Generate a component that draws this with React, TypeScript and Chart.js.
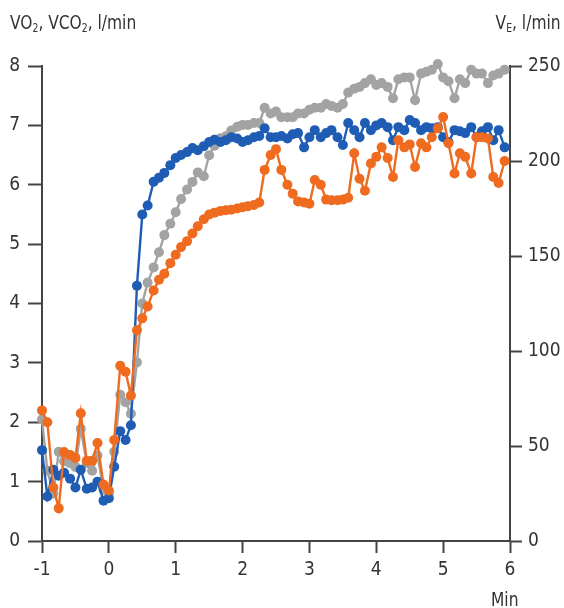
import React, { useEffect, useRef } from 'react';
import { Chart, registerables } from 'chart.js';

Chart.register(...registerables);

// Time in minutes (5-second samples)
const times = [
  -1.00, -0.92, -0.83, -0.75, -0.67, -0.58, -0.50, -0.42, -0.33, -0.25, -0.17, -0.08,
  0.00, 0.08, 0.17, 0.25, 0.33, 0.42, 0.50, 0.58, 0.67, 0.75, 0.83, 0.92,
  1.00, 1.08, 1.17, 1.25, 1.33, 1.42, 1.50, 1.58, 1.67, 1.75, 1.83, 1.92,
  2.00, 2.08, 2.17, 2.25, 2.33, 2.42, 2.50, 2.58, 2.67, 2.75, 2.83, 2.92,
  3.00, 3.08, 3.17, 3.25, 3.33, 3.42, 3.50, 3.58, 3.67, 3.75, 3.83, 3.92,
  4.00, 4.08, 4.17, 4.25, 4.33, 4.42, 4.50, 4.58, 4.67, 4.75, 4.83, 4.92,
  5.00, 5.08, 5.17, 5.25, 5.33, 5.42, 5.50, 5.58, 5.67, 5.75, 5.83, 5.92,
];

// VO2, l/min (blue, left axis)
const vo2 = [
  1.53, 0.75, 1.2, 1.1, 1.15, 1.05, 0.9, 1.2, 0.88, 0.9, 1.0, 0.68,
  0.72, 1.25, 1.85, 1.7, 1.95, 4.3, 5.5, 5.65, 6.05, 6.12, 6.2, 6.33,
  6.45, 6.5, 6.55, 6.62, 6.58, 6.65, 6.72, 6.76, 6.72, 6.75, 6.8, 6.78,
  6.72, 6.75, 6.8, 6.82, 6.95, 6.8, 6.8, 6.82, 6.78, 6.85, 6.87, 6.63,
  6.8, 6.92, 6.8, 6.87, 6.92, 6.8, 6.67, 7.04, 6.92, 6.8, 7.04, 6.92,
  7.0, 7.04, 6.97, 6.75, 6.97, 6.92, 7.09, 7.04, 6.92, 6.97, 6.95, 6.97,
  6.8, 6.72, 6.92, 6.9, 6.87, 6.97, 6.8, 6.9, 6.97, 6.75, 6.92, 6.63,
];

// VCO2, l/min (orange, left axis)
const vco2 = [
  2.2, 2.0, 0.9, 0.55, 1.5, 1.45, 1.4, 2.15, 1.35, 1.35, 1.65, 0.95,
  0.85, 1.7, 2.95, 2.85, 2.45, 3.55, 3.75, 3.95, 4.22, 4.4, 4.5, 4.68,
  4.82, 4.95, 5.05, 5.18, 5.3, 5.42, 5.5, 5.53, 5.56, 5.57, 5.58, 5.6,
  5.62, 5.64, 5.66, 5.7, 6.25, 6.5, 6.6, 6.25, 6.0, 5.85, 5.72, 5.7,
  5.68, 6.08, 6.0, 5.75, 5.74, 5.74, 5.75, 5.78, 6.53, 6.1, 5.9, 6.36,
  6.47, 6.63, 6.45, 6.13, 6.75, 6.63, 6.68, 6.3, 6.7, 6.63, 6.8, 6.95,
  7.14, 6.7, 6.19, 6.53, 6.47, 6.19, 6.8, 6.8, 6.78, 6.13, 6.03, 6.4,
];

// VE, l/min (grey, right axis)
const ve = [
  64, 37, 25, 47, 42, 41, 39, 59, 41, 37, 45, 27,
  25, 47, 77, 73, 67, 94, 125, 136, 144, 152, 161, 167,
  173, 180, 185, 189, 194, 192, 203, 208, 212, 213, 216, 218,
  219, 219, 220, 220, 228, 225, 226, 223, 223, 223, 225, 225,
  227, 228, 228, 230, 229, 228, 230, 236, 238, 239, 241, 243,
  240, 241, 239, 233, 243, 244, 244, 232, 246, 247, 248, 251,
  244, 242, 233, 243, 241, 248, 246, 246, 241, 245, 246, 248,
];

const leftTicks = [0, 8, 1];
const rightTicks = [0, 250, 50];
const xTicks = [-1, 6, 1];

const FONT = '"DejaVu Sans Condensed", "Liberation Sans Narrow", sans-serif';
const TEXT = '#333333';
const AXIS = '#444444';
const BLUE = '#1f5db4';
const ORANGE = '#ee6b1f';
const GREY = '#a3a3a3';

export default function App() {
  const ref = useRef<HTMLCanvasElement>(null);

  useEffect(() => {
    const pts = (arr: number[]) => times.map((t, i) => ({ x: t, y: arr[i] }));
    const ds = (label: string, arr: number[], color: string, axis: string, order: number) => ({
      label,
      data: pts(arr),
      borderColor: color,
      backgroundColor: color,
      pointBackgroundColor: color,
      pointBorderColor: color,
      pointBorderWidth: 0,
      pointRadius: 5,
      borderWidth: 2.4,
      tension: 0,
      yAxisID: axis,
      order,
      clip: false as any,
    });
    const font = { family: FONT, size: 19 };
    const chart = new Chart(ref.current!, {
      type: 'line',
      data: {
        datasets: [
          ds('VCO2', vco2, ORANGE, 'y', 1),
          ds('VO2', vo2, BLUE, 'y', 2),
          ds('VE', ve, GREY, 'y2', 3),
        ],
      },
      options: {
        animation: false,
        responsive: false,
        maintainAspectRatio: false,
        layout: { padding: { top: 66, left: 0, right: 0, bottom: 0 } },
        plugins: { legend: { display: false }, tooltip: { enabled: false } },
        scales: {
          x: {
            type: 'linear',
            min: xTicks[0],
            max: xTicks[1],
            ticks: { stepSize: xTicks[2], font, color: TEXT, padding: 6, maxRotation: 0 },
            grid: { drawOnChartArea: false, drawTicks: true, tickLength: 12, tickWidth: 2, tickColor: AXIS },
            border: { display: true, color: AXIS, width: 2 },
            afterFit: (s: any) => { s.height = 67; },
          },
          y: {
            position: 'left',
            min: leftTicks[0],
            max: leftTicks[1],
            ticks: { stepSize: leftTicks[2], font, color: TEXT, padding: 8 },
            grid: { drawOnChartArea: false, drawTicks: true, tickLength: 14, tickWidth: 2, tickColor: AXIS },
            border: { display: true, color: AXIS, width: 2 },
            afterFit: (s: any) => { s.width = 42; },
          },
          y2: {
            position: 'right',
            min: rightTicks[0],
            max: rightTicks[1],
            ticks: { stepSize: rightTicks[2], font, color: TEXT, padding: 6 },
            grid: { drawOnChartArea: false, drawTicks: true, tickLength: 12, tickWidth: 2, tickColor: AXIS },
            border: { display: true, color: AXIS, width: 2 },
            afterFit: (s: any) => { s.width = 54; },
          },
        },
      },
    } as any);
    return () => chart.destroy();
  }, []);

  const label: React.CSSProperties = {
    position: 'absolute',
    fontFamily: FONT,
    fontSize: 20,
    lineHeight: '20px',
    color: TEXT,
    whiteSpace: 'nowrap',
  };
  const sub: React.CSSProperties = { fontSize: 12, verticalAlign: '-3px', lineHeight: 0 };

  return (
    <div style={{ position: 'absolute', left: 0, top: 0, width: 564, height: 608, background: '#fff' }}>
      <canvas ref={ref} width={564} height={608} style={{ display: 'block' }} />
      <div style={{ ...label, left: 10, top: 12, transform: 'scaleX(0.86)', transformOrigin: 'left center' }}>
        VO<sub style={sub}>2</sub>, VCO<sub style={sub}>2</sub>, l/min
      </div>
      <div style={{ ...label, right: 3, top: 12, transform: 'scaleX(0.86)', transformOrigin: 'right center' }}>
        V<sub style={sub}>E</sub>, l/min
      </div>
      <div style={{ ...label, left: 491, top: 589, transform: 'scaleX(0.86)', transformOrigin: 'left center' }}>Min</div>
    </div>
  );
}
